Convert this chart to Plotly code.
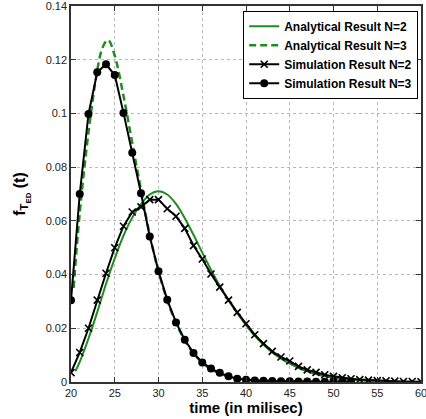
import plotly.graph_objects as go

# Simulation N=2 (x markers), integer times 20..60
sim2_t = list(range(20, 61))
sim2_v = [0.0035, 0.011, 0.020, 0.0305, 0.0405, 0.050, 0.058, 0.0633, 0.0652, 0.0679, 0.0679,
          0.0645, 0.0617, 0.0572, 0.0508, 0.0458, 0.0402, 0.0353, 0.0305, 0.0259, 0.0217,
          0.0176, 0.0143, 0.0114, 0.0093, 0.0078, 0.0058, 0.0045, 0.0036, 0.0027, 0.0021,
          0.0016, 0.0012, 0.0009, 0.0007, 0.0005, 0.0004, 0.0003, 0.0002, 0.0002, 0.0001]

# Simulation N=3 (dots), integer times 20..52
sim3_t = list(range(20, 53))
sim3_v = [0.0304, 0.070, 0.0998, 0.1153, 0.1183, 0.1143, 0.1002, 0.0854, 0.0703, 0.0542,
          0.0412, 0.0306, 0.0222, 0.0157, 0.0108, 0.0073, 0.0050, 0.0034, 0.0021, 0.0012,
          0.0008, 0.0006, 0.0005, 0.0004, 0.0003, 0.0003, 0.0002, 0.0002, 0.0001, 0.0001,
          0.0001, 0.0001, 0.0001]

# Analytical N=2 (green solid)
ana2_t = [20.5, 21, 22, 23, 24, 25, 26, 27, 28, 29, 30, 31, 32, 33, 34, 35, 36, 37, 38, 39,
          40, 41, 42, 43, 44, 45, 46, 47, 48, 49, 50, 52, 55, 60]
ana2_v = [0.0040, 0.0075, 0.0162, 0.0260, 0.0365, 0.0460, 0.0545, 0.0612, 0.0662, 0.0698,
          0.0710, 0.0698, 0.0663, 0.0610, 0.0548, 0.0482, 0.0418, 0.0358, 0.0305, 0.0256,
          0.0212, 0.0172, 0.0139, 0.0110, 0.0087, 0.0068, 0.0052, 0.0040, 0.0030, 0.0022,
          0.0016, 0.0008, 0.0003, 0.0]

# Analytical N=3 (green dashed)
ana3_t = [20.3, 21, 22, 23, 23.5, 24, 24.3, 25, 26, 27, 28, 29, 30, 31, 32, 33, 34, 35, 36,
          37, 38, 40, 43, 47, 52]
ana3_v = [0.035, 0.063, 0.093, 0.116, 0.1235, 0.1268, 0.1272, 0.1215, 0.1065, 0.0890, 0.0715,
          0.0548, 0.0412, 0.0304, 0.0220, 0.0155, 0.0106, 0.0072, 0.0048, 0.0032, 0.0021,
          0.0009, 0.0003, 0.0001, 0.0]

x_ticks = [20, 25, 30, 35, 40, 45, 50, 55, 60]
y_ticks = [0, 0.02, 0.04, 0.06, 0.08, 0.1, 0.12, 0.14]
y_tick_text = ["0", "0.02", "0.04", "0.06", "0.08", "0.1", "0.12", "0.14"]

GREEN = "#1e8c1e"

fig = go.Figure()
fig.add_trace(go.Scatter(x=ana2_t, y=ana2_v, mode="lines", name="<b>Analytical Result N=2</b>",
                         line=dict(color=GREEN, width=2, shape="spline")))
fig.add_trace(go.Scatter(x=ana3_t, y=ana3_v, mode="lines", name="<b>Analytical Result N=3</b>",
                         line=dict(color=GREEN, width=2.5, dash="7px,4px", shape="spline")))
fig.add_trace(go.Scatter(x=sim2_t, y=sim2_v, mode="lines+markers", name="<b>Simulation Result N=2</b>",
                         line=dict(color="black", width=2),
                         marker=dict(symbol="x-thin-open", size=7, color="black",
                                     line=dict(color="black", width=1.6))))
fig.add_trace(go.Scatter(x=sim3_t, y=sim3_v, mode="lines+markers", name="<b>Simulation Result N=3</b>",
                         line=dict(color="black", width=2),
                         marker=dict(symbol="circle", size=8, color="black")))

axis_common = dict(showline=True, linecolor="#333333", linewidth=1.5, mirror="ticks",
                   ticks="inside", ticklen=5, tickcolor="#333333", automargin=False,
                   ticklabeloverflow="allow",
                   showgrid=True, gridcolor="#b8b8b8", griddash="dot", gridwidth=1,
                   zeroline=False,
                   tickfont=dict(family="Liberation Sans, Arial, sans-serif", size=11, color="#222222"))

fig.update_xaxes(range=[20, 60], tickvals=x_ticks,
                 title=dict(text="<b>time (in milisec)</b>", standoff=0,
                            font=dict(family="Liberation Sans, Arial, sans-serif", size=15, color="black")),
                 **axis_common)
fig.update_yaxes(range=[0, 0.14], tickvals=y_ticks, ticktext=y_tick_text,
                 title=dict(text="<b>f<sub>T<sub>ED</sub></sub> (t)</b>", standoff=16,
                            font=dict(family="Liberation Sans, Arial, sans-serif", size=16, color="black")),
                 **axis_common)

fig.update_layout(
    width=426, height=419,
    margin=dict(l=71, r=5, t=6, b=37, autoexpand=False),
    plot_bgcolor="white", paper_bgcolor="white",
    legend=dict(x=0.992, y=0.9875, xanchor="right", yanchor="top",
                bgcolor="white", bordercolor="black", borderwidth=1,
                font=dict(family="Liberation Sans, Arial, sans-serif", size=12, color="black"),
                tracegroupgap=0, itemwidth=30),
)

fig.write_html("out.html", config={"displayModeBar": False},
               post_script="document.body.style.margin='0';document.body.style.overflow='hidden';")
